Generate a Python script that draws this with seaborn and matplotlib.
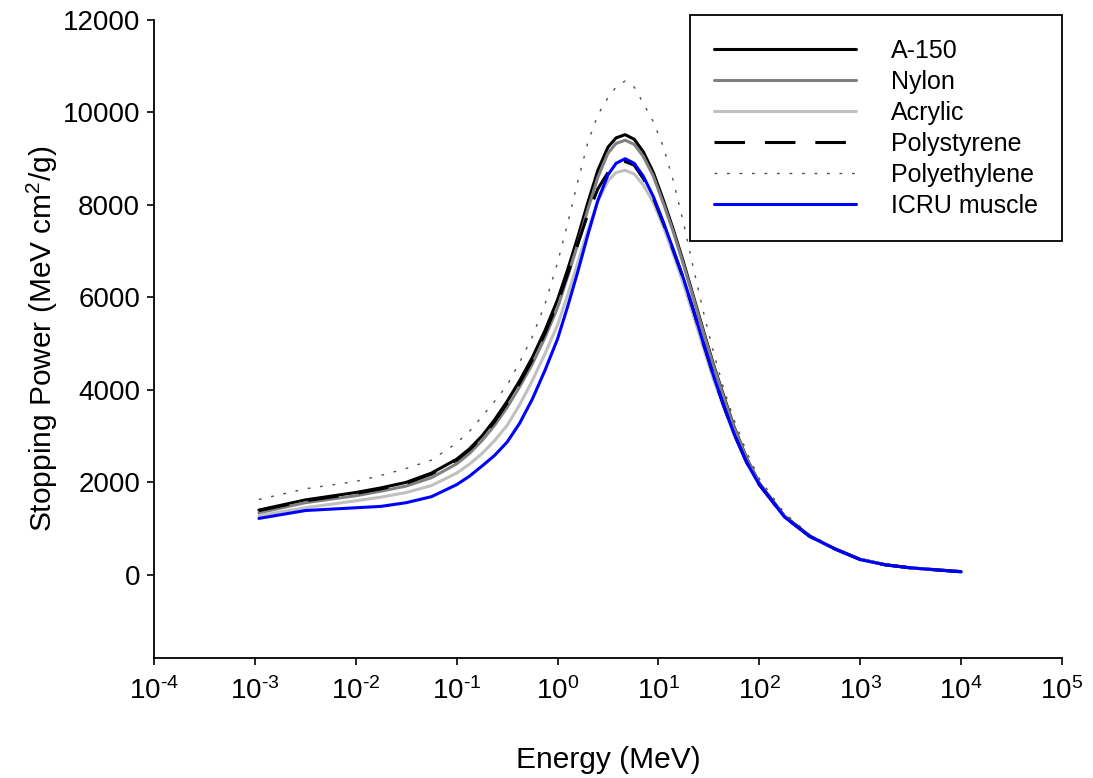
import numpy as np
import pandas as pd
import matplotlib
matplotlib.use("Agg")
import matplotlib.pyplot as plt
import seaborn as sns

# ---------------- data ----------------
log_energy = [-2.96, -2.5, -2.0, -1.75, -1.5, -1.25, -1.0, -0.875, -0.75, -0.625,
              -0.5, -0.375, -0.25, -0.125, 0.0, 0.1, 0.2, 0.3, 0.4, 0.5,
              0.58, 0.67, 0.76, 0.85, 0.95, 1.05, 1.15, 1.25, 1.35, 1.45,
              1.55, 1.65, 1.75, 1.875, 2.0, 2.25, 2.5, 2.75, 3.0, 3.25,
              3.5, 4.0]

a150 = [1400, 1620, 1780, 1880, 2000, 2200, 2500, 2720, 3000, 3350,
        3750, 4200, 4700, 5280, 5950, 6600, 7300, 8050, 8750, 9250,
        9450, 9520, 9420, 9150, 8700, 8100, 7450, 6750, 6000, 5250,
        4520, 3850, 3200, 2520, 1980, 1270, 840, 560, 335, 220,
        150, 70]

nylon = [1340, 1560, 1710, 1810, 1920, 2100, 2400, 2620, 2900, 3230,
         3620, 4070, 4560, 5130, 5780, 6450, 7150, 7900, 8600, 9120,
         9330, 9400, 9310, 9050, 8620, 8030, 7400, 6700, 5960, 5210,
         4490, 3820, 3180, 2510, 1970, 1265, 838, 558, 333, 218,
         150, 70]

acrylic = [1280, 1450, 1600, 1680, 1780, 1930, 2200, 2390, 2620, 2900,
           3230, 3680, 4200, 4780, 5400, 6050, 6750, 7450, 8080, 8520,
           8700, 8750, 8670, 8430, 8050, 7520, 6920, 6280, 5580, 4880,
           4200, 3600, 3030, 2420, 1940, 1250, 830, 555, 330, 215,
           148, 68]

polystyrene = [1390, 1600, 1760, 1860, 1980, 2180, 2480, 2700, 2970, 3310,
               3710, 4150, 4650, 5220, 5880, 6500, 7150, 7800, 8350, 8700,
               8880, 8940, 8860, 8570, 8150, 7600, 7000, 6400, 5700, 4980,
               4280, 3640, 3050, 2430, 1950, 1250, 830, 560, 330, 215,
               150, 65]

polyethylene = [1630, 1860, 2020, 2150, 2300, 2480, 2850, 3100, 3420, 3750,
                4100, 4600, 5150, 5850, 6750, 7600, 8500, 9350, 9950, 10320,
                10550, 10680, 10550, 10200, 9800, 9250, 8500, 7600, 6600, 5650,
                4780, 4000, 3350, 2650, 2080, 1330, 870, 580, 345, 228,
                158, 75]

icru_muscle = [1220, 1390, 1450, 1480, 1560, 1690, 1950, 2130, 2350, 2580,
               2870, 3280, 3800, 4420, 5100, 5800, 6550, 7350, 8100, 8650,
               8900, 9000, 8900, 8620, 8180, 7620, 7020, 6400, 5700, 4980,
               4280, 3640, 3050, 2430, 1950, 1250, 830, 560, 330, 215,
               150, 65]

series_names = ["A-150", "Nylon", "Acrylic", "Polystyrene", "Polyethylene", "ICRU muscle"]
series_vals = [a150, nylon, acrylic, polystyrene, polyethylene, icru_muscle]

x_tick_exps = [-4, -3, -2, -1, 0, 1, 2, 3, 4, 5]
y_ticks = [0, 2000, 4000, 6000, 8000, 10000, 12000]

# ---------------- style ----------------
sns.set_theme(style="white")
plt.rcParams["font.family"] = ["Liberation Sans", "DejaVu Sans"]
plt.rcParams["mathtext.fontset"] = "custom"
plt.rcParams["mathtext.rm"] = "Liberation Sans"
plt.rcParams["mathtext.it"] = "Liberation Sans:italic"
plt.rcParams["mathtext.bf"] = "Liberation Sans:bold"

styles = {
    "A-150":        dict(color="black",   lw=2.2, ls="-"),
    "Nylon":        dict(color="#808080", lw=2.2, ls="-"),
    "Acrylic":      dict(color="#c0c0c0", lw=2.2, ls="-"),
    "Polystyrene":  dict(color="black",   lw=2.2, ls=(0, (10, 6.5))),
    "Polyethylene": dict(color="#505050", lw=1.0, ls=(0, (2, 7))),
    "ICRU muscle":  dict(color="#0000ff", lw=2.2, ls="-"),
}

energy = [10.0 ** e for e in log_energy]
frames = []
for name, vals in zip(series_names, series_vals):
    frames.append(pd.DataFrame({"Energy": energy, "SP": vals, "Material": name}))
df = pd.concat(frames, ignore_index=True)

fig = plt.figure(figsize=(10.93, 7.78), dpi=100)
ax = fig.add_axes([0.1409, 0.1542, 0.9716 - 0.1409, 0.9743 - 0.1542])

for name in series_names:
    sub = df[df["Material"] == name]
    st = styles[name]
    sns.lineplot(data=sub, x="Energy", y="SP", ax=ax, color=st["color"],
                 linewidth=st["lw"], linestyle=st["ls"], label=name,
                 estimator=None, sort=False)

def exp_label(e):
    if e < 0:
        return r"$\mathregular{10^{\text{-}%d}}$" % (-e)
    return r"$\mathregular{10^{%d}}$" % e

ax.set_xscale("log")
ax.set_xlim(1e-4, 1e5)
ax.set_ylim(-1800, 12000)
ax.set_xticks([10.0 ** e for e in x_tick_exps])
ax.set_xticklabels([exp_label(e) for e in x_tick_exps])
ax.xaxis.set_minor_locator(matplotlib.ticker.NullLocator())
ax.set_yticks(y_ticks)
ax.set_yticklabels([str(v) for v in y_ticks])

for s in ["top", "right"]:
    ax.spines[s].set_visible(False)
for s in ["left", "bottom"]:
    ax.spines[s].set_color("black")
    ax.spines[s].set_linewidth(1.3)

ax.tick_params(axis="both", which="major", direction="out", length=5, width=1.2,
               color="black", labelsize=20, labelcolor="black", pad=5)
ax.tick_params(axis="x", pad=9)
ax.tick_params(left=True, bottom=True)

ax.set_xlabel("Energy (MeV)", fontsize=21.5, color="black", labelpad=29)
ax.set_ylabel(r"Stopping Power (MeV cm$\mathregular{^2}$/g)", fontsize=21.5,
              color="black", labelpad=2)

leg = ax.legend(loc="upper right", bbox_to_anchor=(1.0, 1.008), borderaxespad=0,
                fontsize=18, frameon=True, fancybox=False, edgecolor="black",
                handlelength=5.7, handletextpad=1.4, labelspacing=0.28,
                borderpad=0.95, labelcolor="black")
leg.get_frame().set_linewidth(1.3)
leg.get_frame().set_alpha(1)

fig.savefig("out.png", dpi=100, facecolor="white")
